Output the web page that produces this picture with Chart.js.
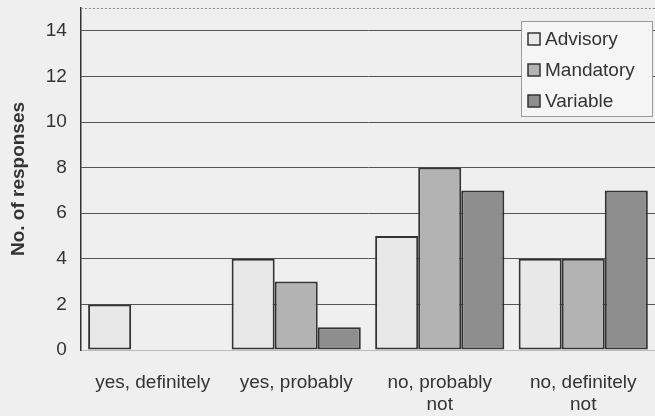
<!DOCTYPE html>
<html>
<head>
<meta charset="utf-8">
<script src="https://cdn.jsdelivr.net/npm/chart.js@4"></script>
<style>
  html, body { margin: 0; padding: 0; background: #efefef; }
  #wrap { width: 655px; height: 416px; }
</style>
</head>
<body>
<div id="wrap"><canvas id="responsesChart" width="655" height="416"></canvas></div>
<script>
// data
const categories = ['yes, definitely', 'yes, probably', ['no, probably', 'not'], ['no, definitely', 'not']];
const advisory = [2, 4, 5, 4];
const mandatory = [0, 3, 8, 4];
const variable = [0, 1, 7, 7];
const yTicks = [0, 2, 4, 6, 8, 10, 12, 14];

const FONT = '"Liberation Sans", Arial, sans-serif';

// ---------------------------------------------------------
// legend box drawn inside the plot, top right
// ---------------------------------------------------------
const boxLegend = {
    id: 'boxLegend',
    afterDraw(chart) {
        const ctx = chart.ctx;
        const area = chart.chartArea;
        const x = 521, y = 21, w = 131, h = 95;
        ctx.save();
        // dotted top edge of the plot
        ctx.strokeStyle = '#888';
        ctx.lineWidth = 1;
        ctx.setLineDash([2, 2]);
        ctx.beginPath();
        ctx.moveTo(area.left, area.top + 0.5);
        ctx.lineTo(area.right, area.top + 0.5);
        ctx.stroke();
        ctx.setLineDash([]);

        ctx.fillStyle = '#f5f5f5';
        ctx.fillRect(x, y, w, h);
        ctx.strokeStyle = '#9a9a9a';
        ctx.strokeRect(x + 0.5, y + 0.5, w, h);
        ctx.font = '19px ' + FONT;
        ctx.textBaseline = 'middle';
        chart.data.datasets.forEach((ds, i) => {
            const cy = y + 18 + i * 31;
            ctx.fillStyle = ds.backgroundColor;
            ctx.fillRect(x + 7, cy - 6, 12, 12);
            ctx.strokeStyle = '#333';
            ctx.lineWidth = 1.5;
            ctx.strokeRect(x + 7, cy - 6, 12, 12);
            ctx.fillStyle = '#333';
            ctx.fillText(ds.label, x + 24, cy + 1);
        });
        ctx.restore();
    }
};

const barStyle = { borderColor: '#333', borderWidth: 2, borderSkipped: false };

new Chart(document.getElementById('responsesChart'), {
    type: 'bar',
    data: {
        labels: categories,
        datasets: [
            { label: 'Advisory', data: advisory, backgroundColor: '#e8e8e8', ...barStyle },
            { label: 'Mandatory', data: mandatory, backgroundColor: '#b3b3b3', ...barStyle },
            { label: 'Variable', data: variable, backgroundColor: '#8e8e8e', ...barStyle }
        ]
    },
    options: {
        responsive: false,
        animation: false,
        layout: { padding: { top: 8, right: 0, left: 7, bottom: 0 } },
        datasets: { bar: { categoryPercentage: 0.9, barPercentage: 1 } },
        plugins: { legend: { display: false }, tooltip: { enabled: false } },
        scales: {
            x: {
                grid: { display: false },
                border: { color: '#bbb', width: 1 },
                afterFit: axis => { axis.height = 66; axis.paddingLeft = 0; axis.paddingRight = 0; },
                ticks: {
                    color: '#333',
                    padding: 13,
                    maxRotation: 0,
                    font: { family: FONT, size: 19, lineHeight: 1.2 }
                }
            },
            y: {
                min: 0,
                max: 15,
                afterBuildTicks: axis => { axis.ticks = yTicks.map(v => ({ value: v })); },
                afterFit: axis => { axis.paddingTop = 0; axis.paddingBottom = 0; },
                grid: { color: '#555', lineWidth: 1, drawTicks: false },
                border: { color: '#333', width: 1.5 },
                ticks: {
                    color: '#333',
                    padding: 14,
                    font: { family: FONT, size: 19 }
                },
                title: {
                    display: true,
                    text: 'No. of responses',
                    color: '#333',
                    padding: { top: 0, bottom: 2 },
                    font: { family: FONT, size: 19, weight: 'bold' }
                }
            }
        }
    },
    plugins: [boxLegend]
});
</script>
</body>
</html>
